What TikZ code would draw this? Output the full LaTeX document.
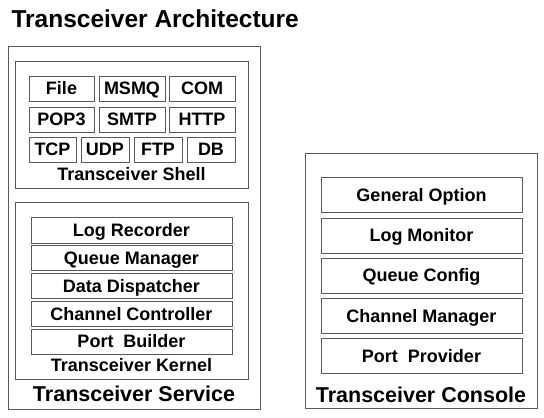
\documentclass[tikz,border=0pt]{standalone}
\usepackage{fontspec}
\setmainfont{Liberation Sans}
\usepackage{xcolor}
\usepackage{tikz}

\begin{document}
\begin{tikzpicture}[
      x=1pt, y=-1pt,
      cell/.style={rectangle, draw=black!65, line width=0.9pt, minimum height=25pt, inner sep=0pt, text height=13.5pt, text depth=1pt, font=\fontsize{18}{20}\selectfont\bfseries},
      frame/.style={rectangle, draw=black!65, line width=0.9pt, inner sep=0pt},
      lbl/.style={font=\fontsize{18}{20}\selectfont\bfseries},
      biglbl/.style={font=\fontsize{21.5}{24}\selectfont\bfseries}
    ]
      \useasboundingbox (0,0) rectangle (544,418);
      \node[anchor=west, font=\fontsize{24.5}{28}\selectfont\bfseries] (title) at (8, 19) {Transceiver Architecture};
      % service side
      \node[frame, minimum width=252pt, minimum height=363pt] (svc) at (134, 227.5) {};
      \node[frame, minimum width=233pt, minimum height=127pt] (shell) at (131.5, 124.5) {};
      \node[cell, minimum width=65pt] (file) at (61.5, 88.5) {File};
      \node[cell, minimum width=66pt] (msmq) at (132, 88.5) {MSMQ};
      \node[cell, minimum width=66pt] (com) at (202, 88.5) {COM};
      \node[cell, minimum width=65pt] (pop) at (61.5, 119.5) {POP3};
      \node[cell, minimum width=66pt] (smtp) at (132, 119.5) {SMTP};
      \node[cell, minimum width=66pt] (http) at (202, 119.5) {HTTP};
      \node[cell, minimum width=47pt] (tcp) at (52.5, 149.5) {TCP};
      \node[cell, minimum width=48pt] (udp) at (105, 149.5) {UDP};
      \node[cell, minimum width=48pt] (ftp) at (158, 149.5) {FTP};
      \node[cell, minimum width=48pt] (db) at (211, 149.5) {DB};
      \node[lbl] (shelllbl) at (131.5, 174) {Transceiver Shell};
      \node[frame, minimum width=233pt, minimum height=177pt] (kernel) at (131.5, 290.5) {};
      \node[cell, minimum width=201pt, minimum height=26pt] (logrec) at (131.5, 230) {Log Recorder};
      \node[cell, minimum width=201pt] (queuemgr) at (131.5, 258) {Queue Manager};
      \node[cell, minimum width=201pt] (dispatch) at (131.5, 286) {Data Dispatcher};
      \node[cell, minimum width=201pt] (chanctl) at (131.5, 314) {Channel Controller};
      \node[cell, minimum width=201pt] (portbld) at (131.5, 341.5) {Port~~Builder};
      \node[lbl] (kernellbl) at (131.5, 365) {Transceiver Kernel};
      \node[biglbl] (svclbl) at (134, 394) {Transceiver Service};
      % console side
      \node[frame, minimum width=232pt, minimum height=255pt] (console) at (421, 280.5) {};
      \node[cell, minimum width=201pt, minimum height=35pt] (genopt) at (421.5, 195) {General Option};
      \node[cell, minimum width=201pt, minimum height=35pt] (logmon) at (421.5, 235.5) {Log Monitor};
      \node[cell, minimum width=201pt, minimum height=35pt] (queuecfg) at (421.5, 275.5) {Queue Config};
      \node[cell, minimum width=201pt, minimum height=35pt] (chanmgr) at (421.5, 316) {Channel Manager};
      \node[cell, minimum width=201pt, minimum height=35pt] (portprov) at (421.5, 356) {Port~~Provider};
      \node[biglbl] (consolelbl) at (421, 395) {Transceiver Console};
    \end{tikzpicture}
\end{document}
